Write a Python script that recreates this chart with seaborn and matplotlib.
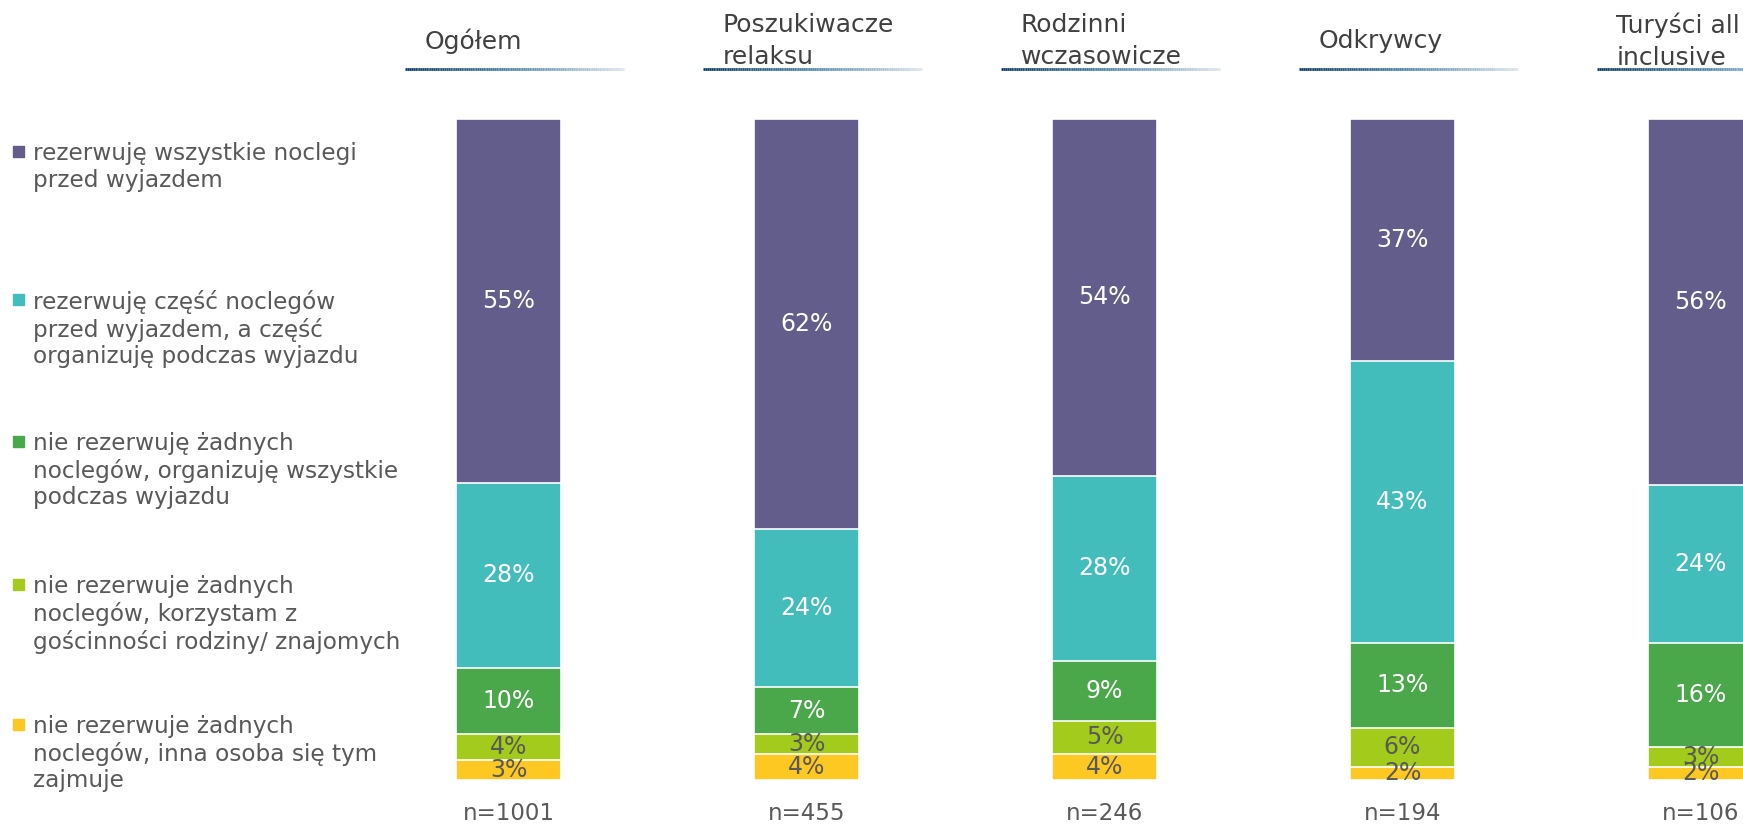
import numpy as np
import pandas as pd
import seaborn as sns
import matplotlib
matplotlib.use("Agg")
import matplotlib.pyplot as plt
from matplotlib.patches import Rectangle
from matplotlib.collections import LineCollection
from matplotlib.colors import LinearSegmentedColormap

# ---------------- data ----------------
groups = ["Ogółem", "Poszukiwacze\nrelaksu", "Rodzinni\nwczasowicze", "Odkrywcy", "Turyści all\ninclusive"]
n_labels = ["n=1001", "n=455", "n=246", "n=194", "n=106"]
categories = [
    "rezerwuję wszystkie noclegi\nprzed wyjazdem",
    "rezerwuję część noclegów\nprzed wyjazdem, a część\norganizuję podczas wyjazdu",
    "nie rezerwuję żadnych\nnoclegów, organizuję wszystkie\npodczas wyjazdu",
    "nie rezerwuje żadnych\nnoclegów, korzystam z\ngościnności rodziny/ znajomych",
    "nie rezerwuje żadnych\nnoclegów, inna osoba się tym\nzajmuje",
]
all_before = [55, 62, 54, 37, 56]
part_before = [28, 24, 28, 43, 24]
none_during = [10, 7, 9, 13, 16]
none_family = [4, 3, 5, 6, 3]
none_other = [3, 4, 4, 2, 2]
series = [all_before, part_before, none_during, none_family, none_other]

colors = ["#635d8b", "#43bdbc", "#4aa84a", "#a2cb1c", "#fec823"]
label_colors = ["white", "white", "white", "#595959", "#595959"]
text_gray = "#595959"

# ---------------- figure ----------------
sns.set_theme(style="white")
plt.rcParams["font.family"] = ["DejaVu Sans"]
W, H = 1743, 826
fig = plt.figure(figsize=(W / 100, H / 100), dpi=100)

# main axes: bars from y=119 px (top) to 780 px (bottom)
bar_top, bar_bot = 119, 780
ax = fig.add_axes([0, (H - bar_bot) / H, 1, (bar_bot - bar_top) / H])

vals = np.array(series, dtype=float)          # shape (5 cats, 5 groups)
vals = vals / vals.sum(axis=0) * 100           # normalise to 100%
stack_order = list(range(len(categories)))[::-1]
bottoms = np.zeros(len(groups))
bottom_of = {}
for k in stack_order:
    bottom_of[k] = bottoms.copy()
    bottoms = bottoms + vals[k]

df_groups = [g.replace("\n", " ") for g in groups]
for k in range(len(categories)):
    tops = bottom_of[k] + vals[k]
    d = pd.DataFrame({"grupa": df_groups, "top": tops})
    sns.barplot(data=d, x="grupa", y="top", color=colors[k], width=0.352,
                saturation=1, edgecolor="white", linewidth=1.2, ax=ax, zorder=2 + k)

spacing = 298
c0 = 508.5
ax.set_xlim(-c0 / spacing, (W - c0) / spacing)
ax.set_ylim(0, 100)
ax.axis("off")

# value labels
for k in range(len(categories)):
    for i in range(len(groups)):
        yc = bottom_of[k][i] + vals[k][i] / 2
        ax.text(i, yc, f"{series[k][i]}%", ha="center", va="center",
                fontsize=17, color=label_colors[k], zorder=20, clip_on=False)

# overlay axes in pixel coordinates for headers, legend, n-labels
ov = fig.add_axes([0, 0, 1, 1], facecolor="none")
ov.set_xlim(0, W)
ov.set_ylim(H, 0)
ov.axis("off")

grad = LinearSegmentedColormap.from_list("g", ["#0a3a6a", "#4f86b3", "#dde3ea"])
for i, g in enumerate(groups):
    cx = c0 + spacing * i
    x0, x1 = cx - 103, cx + 116
    xs = np.linspace(x0, x1, 120)
    segs = [[(xs[j], 69), (xs[j + 1], 69)] for j in range(len(xs) - 1)]
    lc = LineCollection(segs, colors=[grad(t) for t in np.linspace(0, 1, len(segs))],
                        linewidths=2)
    ov.add_collection(lc)
    ov.text(x0 + 19, 41, g, ha="left", va="center", fontsize=18,
            color="#404040", linespacing=1.42)
    ov.text(cx, 814, n_labels[i], ha="center", va="center", fontsize=16.5, color=text_gray)

# legend
legend_y = [152, 300, 442, 585, 725]
for k, cat in enumerate(categories):
    y = legend_y[k]
    ov.add_patch(Rectangle((13, y - 6), 11, 11, color=colors[k]))
    ov.text(33, y - 10, cat, ha="left", va="top", fontsize=16.7, color=text_gray,
            linespacing=1.2)

fig.savefig("out.png", dpi=100)
